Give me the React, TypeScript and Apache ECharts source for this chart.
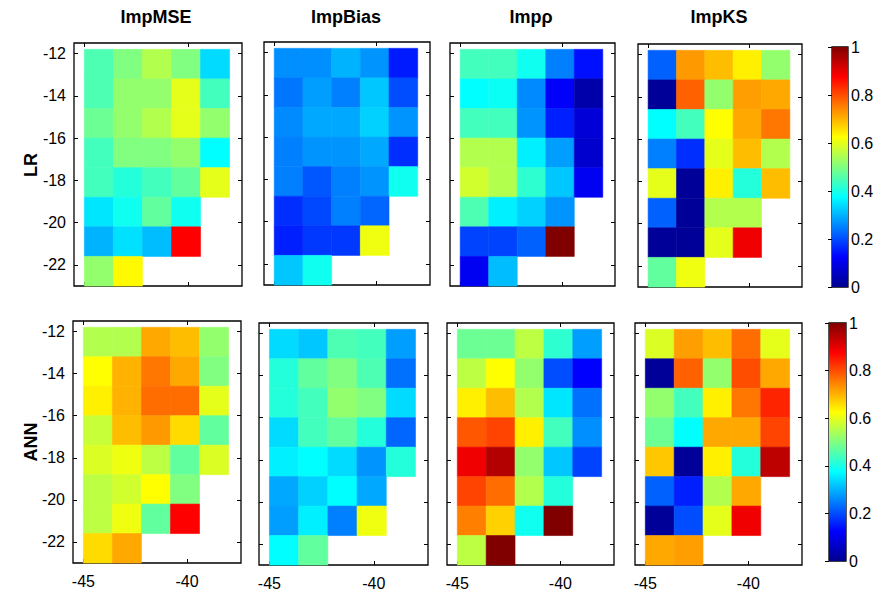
import React, { useEffect, useRef } from 'react';
import * as echarts from 'echarts';

// ---------- data ----------
const rowNames = ['LR', 'ANN'];
const metricNames = ['ImpMSE', 'ImpBias', 'Impρ', 'ImpKS'];
const lonCenters = [-44.3, -42.9, -41.5, -40.1, -38.7];
const latCenters = [-12.5, -13.9, -15.3, -16.7, -18.1, -19.5, -20.9, -22.3];
const cellSize = 1.4;
const xTicks = [-45, -40];
const yTicks = [-12, -14, -16, -18, -20, -22];
const cbTicks = [0, 0.2, 0.4, 0.6, 0.8, 1];
const jetColors = ['#00008F', '#0000FF', '#0080FF', '#00FFFF', '#80FF80', '#FFFF00', '#FF8000', '#FF0000', '#800000'];

// rows: latitude top -> bottom, columns: longitude west -> east
const lrMSE = [
  [0.45, 0.5, 0.55, 0.5, 0.34],
  [0.45, 0.52, 0.52, 0.6, 0.44],
  [0.48, 0.52, 0.55, 0.6, 0.52],
  [0.44, 0.5, 0.5, 0.52, 0.375],
  [0.44, 0.41, 0.44, 0.47, 0.6],
  [0.35, 0.39, 0.47, 0.39],
  [0.3, 0.345, 0.31, 0.875],
  [0.52, 0.63],
];
const lrBias = [
  [0.265, 0.265, 0.3, 0.27, 0.15],
  [0.24, 0.28, 0.25, 0.32, 0.2],
  [0.26, 0.29, 0.29, 0.33, 0.27],
  [0.25, 0.27, 0.27, 0.29, 0.17],
  [0.25, 0.21, 0.25, 0.27, 0.39],
  [0.17, 0.195, 0.25, 0.225],
  [0.155, 0.18, 0.18, 0.61],
  [0.32, 0.39],
];
const lrRho = [
  [0.44, 0.44, 0.39, 0.25, 0.14],
  [0.375, 0.385, 0.26, 0.12, 0.03],
  [0.44, 0.44, 0.27, 0.155, 0.08],
  [0.55, 0.55, 0.36, 0.28, 0.07],
  [0.58, 0.55, 0.42, 0.32, 0.11],
  [0.45, 0.36, 0.33, 0.27],
  [0.19, 0.19, 0.22, 1.0],
  [0.11, 0.31],
];
const lrKS = [
  [0.22, 0.725, 0.69, 0.64, 0.52],
  [0.01, 0.78, 0.52, 0.72, 0.71],
  [0.375, 0.44, 0.625, 0.71, 0.76],
  [0.25, 0.17, 0.6, 0.69, 0.55],
  [0.6, 0.01, 0.64, 0.41, 0.69],
  [0.22, 0.01, 0.55, 0.55],
  [0.01, 0.01, 0.6, 0.89],
  [0.47, 0.61],
];
const annMSE = [
  [0.55, 0.55, 0.71, 0.69, 0.52],
  [0.625, 0.7, 0.76, 0.71, 0.5],
  [0.64, 0.7, 0.77, 0.77, 0.6],
  [0.57, 0.69, 0.725, 0.66, 0.47],
  [0.59, 0.61, 0.56, 0.47, 0.59],
  [0.56, 0.58, 0.625, 0.5],
  [0.56, 0.61, 0.47, 0.875],
  [0.66, 0.71],
];
const annBias = [
  [0.34, 0.32, 0.45, 0.44, 0.28],
  [0.41, 0.47, 0.5, 0.45, 0.235],
  [0.41, 0.44, 0.52, 0.5, 0.34],
  [0.34, 0.44, 0.47, 0.41, 0.225],
  [0.36, 0.375, 0.34, 0.27, 0.41],
  [0.29, 0.33, 0.375, 0.29],
  [0.28, 0.36, 0.25, 0.61],
  [0.375, 0.47],
];
const annRho = [
  [0.48, 0.48, 0.56, 0.42, 0.28],
  [0.56, 0.625, 0.52, 0.2, 0.125],
  [0.64, 0.69, 0.55, 0.35, 0.235],
  [0.79, 0.81, 0.64, 0.44, 0.265],
  [0.89, 0.95, 0.52, 0.32, 0.19],
  [0.81, 0.77, 0.55, 0.41],
  [0.75, 0.67, 0.39, 1.0],
  [0.56, 1.0],
];
const annKS = [
  [0.59, 0.72, 0.69, 0.77, 0.6],
  [0.01, 0.78, 0.52, 0.8, 0.71],
  [0.52, 0.44, 0.64, 0.76, 0.84],
  [0.48, 0.375, 0.71, 0.71, 0.81],
  [0.68, 0.01, 0.64, 0.41, 0.94],
  [0.22, 0.155, 0.55, 0.71],
  [0.01, 0.2, 0.6, 0.89],
  [0.71, 0.72],
];

const panels = [lrMSE, lrBias, lrRho, lrKS, annMSE, annBias, annRho, annKS];

// ---------- layout ----------
const FONT = 'Liberation Sans, Arial, Helvetica, sans-serif';
const panelBoxes = [
  [74, 43, 168, 243],
  [264, 42, 166, 243],
  [450, 43, 165, 243],
  [638, 44, 164, 243],
  [73, 321, 168, 242],
  [259, 323, 169, 242],
  [447, 323, 167, 242],
  [635, 323, 167, 242],
];
const cbBoxes = [
  [832, 47, 16, 240],
  [829, 323, 17, 238],
];
const titleX = [156, 346, 531, 719];
const rowLabelY = [165, 442];

function buildData(rows: number[][]) {
  const out: number[][] = [];
  rows.forEach((row, r) => row.forEach((v, c) => out.push([lonCenters[c], latCenters[r], v])));
  return out;
}

export default function App() {
  const ref = useRef<HTMLDivElement>(null);
  useEffect(() => {
    if (!ref.current) return;
    const chart = echarts.init(ref.current, undefined, { renderer: 'svg' });

    const grids: any[] = [];
    const xAxes: any[] = [];
    const yAxes: any[] = [];
    const series: any[] = [];

    const tickStyle = { color: '#000', width: 1 };
    const labelStyle = { color: '#000', fontSize: 16, fontFamily: FONT };

    panelBoxes.forEach((b, i) => {
      grids.push({
        left: b[0], top: b[1], width: b[2], height: b[3],
        show: true, borderColor: '#000', borderWidth: 1.3, backgroundColor: '#fff',
      });
      ['bottom', 'top'].forEach((pos, k) => {
        xAxes.push({
          gridIndex: i, type: 'value', position: pos, min: -45.5, max: -37.4,
          axisLine: { show: false }, splitLine: { show: false },
          axisTick: { show: true, inside: true, length: 4, customValues: xTicks, lineStyle: tickStyle },
          axisLabel: { show: k === 0 && i >= 4, customValues: xTicks, margin: 10, ...labelStyle },
        });
      });
      ['left', 'right'].forEach((pos, k) => {
        yAxes.push({
          gridIndex: i, type: 'value', position: pos, min: -23, max: -11.5,
          axisLine: { show: false }, splitLine: { show: false },
          axisTick: { show: true, inside: true, length: 4, customValues: yTicks, lineStyle: tickStyle },
          axisLabel: { show: k === 0 && i % 4 === 0, customValues: yTicks, margin: 8, ...labelStyle },
        });
      });
      series.push({
        type: 'custom',
        xAxisIndex: 2 * i,
        yAxisIndex: 2 * i,
        encode: { x: 0, y: 1 },
        data: buildData(panels[i]),
        renderItem: (params: any, api: any) => {
          const lon = api.value(0);
          const lat = api.value(1);
          const p1 = api.coord([lon - cellSize / 2, lat + cellSize / 2]);
          const p2 = api.coord([lon + cellSize / 2, lat - cellSize / 2]);
          const col = api.visual('color');
          return {
            type: 'rect',
            shape: { x: p1[0], y: p1[1], width: p2[0] - p1[0], height: p2[1] - p1[1] },
            style: { fill: col, stroke: col, lineWidth: 0.6 },
          };
        },
      });
    });

    const gradStops = jetColors
      .slice()
      .reverse()
      .map((c, k) => ({ offset: k / (jetColors.length - 1), color: c }));

    cbBoxes.forEach((b) => {
      const gi = grids.length;
      grids.push({
        left: b[0], top: b[1], width: b[2], height: b[3],
        show: true, borderColor: '#000', borderWidth: 1.3,
      });
      xAxes.push({ gridIndex: gi, type: 'value', min: 0, max: 1, show: false });
      yAxes.push({
        gridIndex: gi, type: 'value', position: 'right', min: 0, max: 1,
        axisLine: { show: false }, splitLine: { show: false },
        axisTick: { show: true, inside: true, length: 4, customValues: cbTicks, lineStyle: tickStyle },
        axisLabel: {
          show: true, customValues: cbTicks, margin: 3, ...labelStyle,
          formatter: (v: number) => String(Math.round(v * 10) / 10),
        },
      });
      series.push({
        type: 'custom',
        xAxisIndex: xAxes.length - 1,
        yAxisIndex: yAxes.length - 1,
        encode: { x: 0, y: [1, 2] },
        data: [[0, cbTicks[0], cbTicks[cbTicks.length - 1]]],
        z: 1,
        renderItem: (params: any, api: any) => {
          const p1 = api.coord([0, api.value(2)]);
          const p2 = api.coord([1, api.value(1)]);
          return {
            type: 'rect',
            shape: { x: p1[0], y: p1[1], width: p2[0] - p1[0], height: p2[1] - p1[1] },
            style: { fill: new echarts.graphic.LinearGradient(0, 0, 0, 1, gradStops), stroke: null },
          };
        },
      });
    });

    const graphics: any[] = [];
    metricNames.forEach((name, k) => {
      graphics.push({
        type: 'text', x: titleX[k], y: 17,
        style: {
          text: name, fontSize: 18, fontWeight: 'bold', fontFamily: FONT, fill: '#000',
          align: 'center', verticalAlign: 'middle',
        },
      });
    });
    rowNames.forEach((name, k) => {
      graphics.push({
        type: 'text', x: 31, y: rowLabelY[k], rotation: Math.PI / 2,
        style: {
          text: name, fontSize: 18, fontWeight: 'bold', fontFamily: FONT, fill: '#000',
          align: 'center', verticalAlign: 'middle',
        },
      });
    });

    chart.setOption({
      animation: false,
      backgroundColor: '#fff',
      grid: grids,
      xAxis: xAxes,
      yAxis: yAxes,
      visualMap: [{
        type: 'continuous', show: false, min: 0, max: 1, dimension: 2,
        seriesIndex: [0, 1, 2, 3, 4, 5, 6, 7],
        inRange: { color: jetColors },
      }],
      series,
      graphic: graphics,
    });
    return () => chart.dispose();
  }, []);
  return <div ref={ref} style={{ position: 'absolute', left: 0, top: 0, width: 880, height: 594 }} />;
}
